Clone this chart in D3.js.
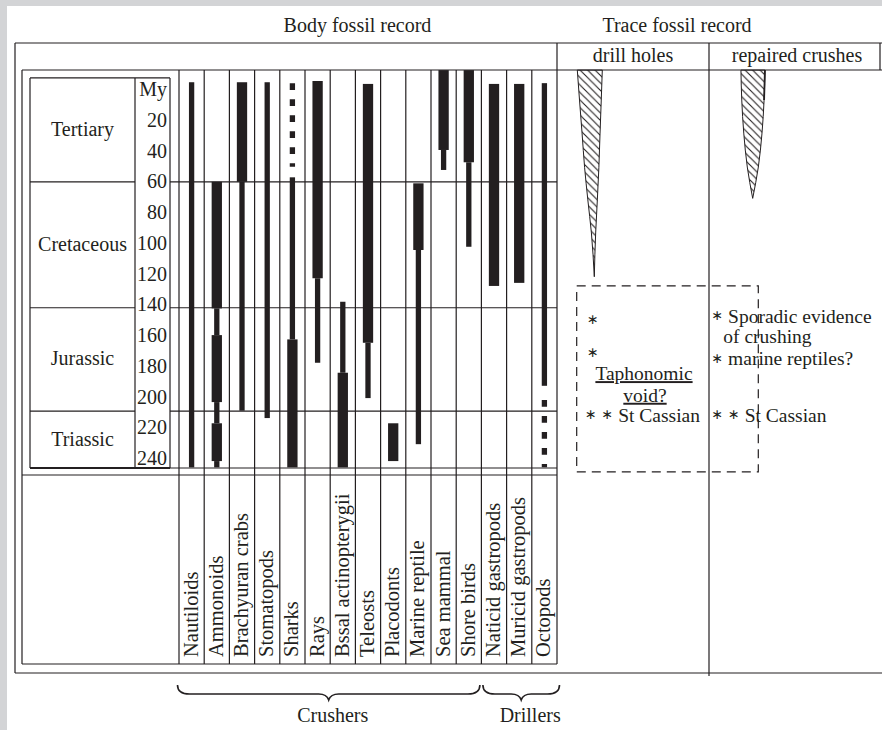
<!DOCTYPE html>
<html><head><meta charset="utf-8">
<script src="https://cdn.jsdelivr.net/npm/d3@7"></script>
<style>
body{margin:0;background:#d3d4d6;}
svg{display:block;}
text{font-family:"Liberation Serif","Times New Roman",serif;fill:#231f20;font-size:20px;}
</style>
</head><body><svg id="chart" width="882" height="730"></svg>
<script>
// ---------------- data ----------------
const taxa = ["Nautiloids","Ammonoids","Brachyuran crabs","Stomatopods","Sharks","Rays",
  "Bssal actinopterygii","Teleosts","Placodonts","Marine reptile","Sea mammal","Shore birds",
  "Naticid gastropods","Muricid gastropods","Octopods"];
const periods = ["Tertiary","Cretaceous","Jurassic","Triassic"];
const periodBounds = [-7.4, 60.2, 142.2, 209.5, 246.5];   // My
const ageTicks = [0,20,40,60,80,100,120,140,160,180,200,220,240];
const ageTickLabels = ["My","20","40","60","80","100","120","140","160","180","200","220","240"];

// [taxon, from My, to My]
const thickRanges = [
  ["Ammonoids",60.2,142.6],["Ammonoids",160,203.6],["Ammonoids",217.4,242],
  ["Brachyuran crabs",-4.6,60.2],
  ["Sharks",162.8,246.1],
  ["Rays",-5.4,123],
  ["Bssal actinopterygii",184.5,246.1],
  ["Teleosts",-3.5,165],
  ["Placodonts",217.4,242],
  ["Marine reptile",61.2,104.6],
  ["Sea mammal",-12.5,39.5],
  ["Shore birds",-12.5,47.5],
  ["Naticid gastropods",-3.5,128],
  ["Muricid gastropods",-3.5,126]
];
const thinRanges = [
  ["Nautiloids",-4.6,246.1],
  ["Ammonoids",142.6,160],["Ammonoids",203.6,217.4],["Ammonoids",242,246.1],
  ["Brachyuran crabs",60.2,209.2],
  ["Stomatopods",-4.6,214],
  ["Sharks",57.3,162.8],
  ["Rays",123,178],
  ["Bssal actinopterygii",138.3,184.5],
  ["Teleosts",165,201],
  ["Marine reptile",104.6,231],
  ["Sea mammal",39.5,52.5],
  ["Shore birds",47.5,102.5],
  ["Octopods",-4,193]
];
const dottedRanges = [
  ["Sharks",-3.9,50.4],
  ["Octopods",202.3,246]
];

// trace fossil spindles: age (My) and relative abundance
const drillAges = [-12.5, 7, 28.5, 51, 72, 93.5, 122];
const drillAbundance = [1, 0.87, 0.72, 0.57, 0.38, 0.17, 0];
const crushAges = [-12.5, 7, 28.5, 50.6, 71];
const crushAbundance = [1, 0.93, 0.76, 0.46, 0];
const voidRange = [128, 249];

const drillNotes = ["∗","∗","Taphonomic","void?","∗ ∗ St Cassian"];
const drillNoteAges = [154.1, 176, 189.3, 203.4, 216.4];
const crushNotes = ["∗ Sporadic evidence","of crushing","∗ marine reptiles?","∗ ∗ St Cassian"];
const crushNoteAges = [152.1, 165.4, 179.5, 216.4];

const groups = ["Crushers","Drillers"];
const groupFirst = ["Nautiloids","Naticid gastropods"];
const groupLast = ["Shore birds","Octopods"];

// ---------------- drawing ----------------
const ink = "#231f20";
const svg = d3.select("#chart");
svg.append("rect").attr("width",882).attr("height",730).attr("fill","#d3d4d6");
svg.append("rect").attr("x",7).attr("y",6).attr("width",875).attr("height",724).attr("fill","#fff");

const defs = svg.append("defs");
const pat = defs.append("pattern").attr("id","hatch").attr("patternUnits","userSpaceOnUse")
  .attr("width",7.5).attr("height",7.5);
pat.append("path").attr("d","M-1,-1 L8.5,8.5 M-1,6.5 L1,8.5 M6.5,-1 L8.5,1")
  .attr("stroke",ink).attr("stroke-width",1.1);

const y = d3.scaleLinear().domain([0,240]).range([89.3,458]);
const x = d3.scaleBand().domain(taxa).range([179,557]);
const bw = x.bandwidth();
const cx = t => x(t) + bw/2;

const g = svg.append("g");
function line(x1,y1,x2,y2,w){
  g.append("line").attr("x1",x1).attr("y1",y1).attr("x2",x2).attr("y2",y2)
   .attr("stroke",ink).attr("stroke-width",w||1.2);
}

// frames
line(15,43,882,43); line(15,43,15,673); line(15,673,882,673); line(880,43,880,70);
line(22,70,882,70);
line(22,70,22,664); line(22,664,557,664);
line(557,43,557,664);
line(709,43,709,676);

// column separators
taxa.forEach(t => line(x(t),70,x(t),664));

// period / age box
const yTop = y(periodBounds[0]), yBot = y(periodBounds[periodBounds.length-1]);
line(30,yTop,170,yTop);
line(30,yTop,30,yBot); line(135,yTop,135,yBot); line(170,yTop,170,yBot);
line(30,yBot,170,yBot,2); line(170,yBot,557,yBot);
line(22,yBot+7,557,yBot+7);
periodBounds.slice(1,-1).forEach(b => { line(30,y(b),135,y(b)); line(170,y(b),557,y(b)); });

// period labels
g.selectAll(".period").data(periods).join("text")
  .attr("x",82.5).attr("text-anchor","middle")
  .attr("y",(d,i)=> (y(periodBounds[i])+y(periodBounds[i+1]))/2 + 6)
  .text(d=>d);

// age tick labels
g.selectAll(".tick").data(ageTicks).join("text")
  .attr("x",167).attr("text-anchor","end")
  .attr("y",d=>y(d)+7)
  .text((d,i)=>ageTickLabels[i]);

// bars
g.selectAll(".thin").data(thinRanges).join("rect")
  .attr("x",d=>cx(d[0])-2.65).attr("width",5.3)
  .attr("y",d=>y(d[1])).attr("height",d=>y(d[2])-y(d[1])).attr("fill",ink);
g.selectAll(".thick").data(thickRanges).join("rect")
  .attr("x",d=>cx(d[0])-5.15).attr("width",10.3)
  .attr("y",d=>y(d[1])).attr("height",d=>y(d[2])-y(d[1])).attr("fill",ink);
g.selectAll(".dot").data(dottedRanges).join("line")
  .attr("x1",d=>cx(d[0])).attr("x2",d=>cx(d[0]))
  .attr("y1",d=>y(d[1])).attr("y2",d=>y(d[2]))
  .attr("stroke",ink).attr("stroke-width",5.3).attr("stroke-dasharray","6.7,9.3");

// taxon labels (rotated)
g.selectAll(".lab").data(taxa).join("text")
  .attr("transform",d=>`translate(${cx(d)+6},657) rotate(-90)`)
  .attr("text-anchor","start").style("font-size","20.5px")
  .text(d=>d);

// headers
g.append("text").attr("x",357.5).attr("y",31.5).attr("text-anchor","middle").text("Body fossil record");
g.append("text").attr("x",677).attr("y",31.5).attr("text-anchor","middle").text("Trace fossil record");
g.append("text").attr("x",633).attr("y",61.5).attr("text-anchor","middle").text("drill holes");
g.append("text").attr("x",797).attr("y",61.5).attr("text-anchor","middle").text("repaired crushes");

// spindles
const wScale = d3.scaleLinear().domain([0,1]).range([0,25]);
const drillTip = 594.3;
const drillData = drillAges.map((a,i)=>({a, v:drillAbundance[i]}));
const drillArea = d3.area().curve(d3.curveMonotoneY)
  .y(d=>y(d.a)).x0(d=>drillTip-0.68*wScale(d.v)).x1(d=>drillTip+0.32*wScale(d.v));
g.append("path").attr("d",drillArea(drillData))
  .attr("fill","url(#hatch)").attr("stroke",ink).attr("stroke-width",1);

const cScale = d3.scaleLinear().domain([0,1]).range([0,24]);
const crushTip = 752.7;
const crushData = crushAges.map((a,i)=>({a, v:crushAbundance[i]}));
const crushArea = d3.area().curve(d3.curveMonotoneY)
  .y(d=>y(d.a)).x0(d=>crushTip-0.49*cScale(d.v)).x1(d=>crushTip+0.51*cScale(d.v));
g.append("path").attr("d",crushArea(crushData))
  .attr("fill","url(#hatch)").attr("stroke",ink).attr("stroke-width",1);
line(crushTip+0.51*cScale(crushAbundance[0]), y(crushAges[0]), crushTip+0.51*cScale(crushAbundance[1]), y(crushAges[1]), 1.8);

// dashed taphonomic void box
g.append("rect").attr("x",576.7).attr("y",y(voidRange[0]))
  .attr("width",181.6).attr("height",y(voidRange[1])-y(voidRange[0]))
  .attr("fill","none").attr("stroke",ink).attr("stroke-width",1.2).attr("stroke-dasharray","9,6");

// notes: small raised asterisks as separate tspans
function noteText(sel, str){
  let off = 0;
  str.split(/(∗)/).filter(s=>s.length).forEach(part=>{
    if(part==="∗"){
      sel.append("tspan").style("font-size","14px").attr("font-family","DejaVu Sans")
        .attr("dy",-2.5 - off).text("∗");
      off = -2.5;
    } else {
      sel.append("tspan").attr("dy",-off).text(part);
      off = 0;
    }
  });
}
const drillX = [587, 587, 644, 645, 585];
const drillAnchor = ["start","start","middle","middle","start"];
drillNotes.forEach((s,i)=>{
  const t = g.append("text").attr("x",drillX[i]).attr("y",y(drillNoteAges[i]))
    .attr("text-anchor",drillAnchor[i])
    .style("font-size","19.5px")
    .style("text-decoration",(i===2||i===3) ? "underline" : null);
  noteText(t, s);
});
const crushX = [711.5, 723.3, 711.5, 711.5];
crushNotes.forEach((s,i)=>{
  const t = g.append("text").attr("x",crushX[i]).attr("y",y(crushNoteAges[i]))
    .style("font-size","19.5px");
  noteText(t, s);
});

// braces
groups.forEach((name,i)=>{
  const x1 = x(groupFirst[i]) + 1.5 - (i===0?3:0);
  const x2 = x(groupLast[i]) + bw - 1.5 + (i===1?4:0);
  const m = (x1+x2)/2, r = 12, yEnd = 685, yF = 694, yT = 700;
  const p = `M${x1},${yEnd} Q${x1},${yF} ${x1+r},${yF} L${m-10},${yF} Q${m-2},${yF} ${m},${yT} Q${m+2},${yF} ${m+10},${yF} L${x2-r},${yF} Q${x2},${yF} ${x2},${yEnd}`;
  g.append("path").attr("d",p).attr("fill","none").attr("stroke",ink).attr("stroke-width",1.6);
  g.append("text").attr("x",m+(i===0?4:9)).attr("y",722).attr("text-anchor","middle").text(name);
});
</script>
</body></html>
